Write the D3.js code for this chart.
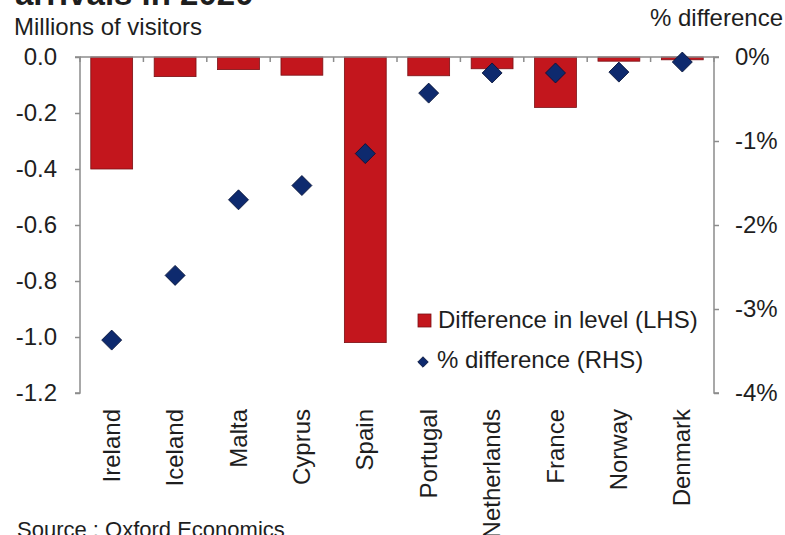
<!DOCTYPE html>
<html>
<head>
<meta charset="utf-8">
<script src="https://cdn.jsdelivr.net/npm/d3@7/dist/d3.min.js"></script>
<style>
  html, body { margin: 0; padding: 0; background: #fff; }
  svg { display: block; font-family: "Liberation Sans", Arial, sans-serif; }
</style>
</head>
<body>
<svg id="chart" width="785" height="535"></svg>
<script>
// Countries along the x axis
const countries = ["Ireland", "Iceland", "Malta", "Cyprus", "Spain", "Portugal", "Netherlands", "France", "Norway", "Denmark"];
// Difference in level of arrivals, millions of visitors (LHS)
const levelDiff = [-0.40, -0.07, -0.045, -0.065, -1.02, -0.067, -0.042, -0.18, -0.015, -0.01];
// Percentage difference (RHS)
const pctDiff = [-3.37, -2.60, -1.70, -1.53, -1.15, -0.43, -0.19, -0.19, -0.18, -0.06];
// Axis ticks
const leftTicks = [0, -0.2, -0.4, -0.6, -0.8, -1.0, -1.2];
const rightTicks = [0, -1, -2, -3, -4];

const svg = d3.select("#chart");
const plotLeft = 80, plotRight = 714, plotTop = 57, plotBottom = 393;
const axisColor = "#8c8c8c";
const textColor = "#1e1e1e";
const fontSize = 24;

const x = d3.scaleBand().domain(countries).range([plotLeft, plotRight]).paddingInner(0.34).paddingOuter(0.17);
const yL = d3.scaleLinear().domain([-1.2, 0]).range([plotBottom, plotTop]);
const yR = d3.scaleLinear().domain([-4, 0]).range([plotBottom, plotTop]);

// Title (runs above the top edge)
svg.append("text").attr("x", 15).attr("y", 5)
  .attr("font-size", 33).attr("font-weight", "bold").attr("fill", textColor)
  .text("arrivals in 2020");

svg.append("text").attr("x", 14).attr("y", 35)
  .attr("font-size", fontSize).attr("fill", textColor).text("Millions of visitors");
svg.append("text").attr("x", 783).attr("y", 26).attr("text-anchor", "end")
  .attr("font-size", fontSize).attr("fill", textColor).text("% difference");

// Bars
svg.append("g").selectAll("rect").data(countries).join("rect")
  .attr("x", d => x(d))
  .attr("width", x.bandwidth())
  .attr("y", yL(0))
  .attr("height", (d, i) => yL(levelDiff[i]) - yL(0))
  .attr("fill", "#c3161d")
  .attr("stroke", "#7a1014")
  .attr("stroke-width", 0.8);

// Left axis
const gL = svg.append("g").attr("transform", `translate(${plotLeft},0)`)
  .call(d3.axisLeft(yL).tickValues(leftTicks).tickSize(5).tickPadding(18)
    .tickFormat(d => d3.format(".1f")(d).replace("−", "-")));
gL.select(".domain").attr("stroke", axisColor).attr("stroke-width", 1.5).attr("d", `M-5,${plotTop}H0V${plotBottom}H-5`);
gL.selectAll(".tick line").attr("stroke", axisColor).attr("stroke-width", 1.5);
gL.selectAll(".tick text").attr("font-size", fontSize).attr("fill", textColor)
  .attr("font-family", "Liberation Sans, Arial, sans-serif");

// Right axis
const gR = svg.append("g").attr("transform", `translate(${plotRight},0)`)
  .call(d3.axisRight(yR).tickValues(rightTicks).tickSize(5).tickPadding(16).tickFormat(d => d + "%"));
gR.select(".domain").attr("stroke", axisColor).attr("stroke-width", 1.5).attr("d", `M5,${plotTop}H0V${plotBottom}H5`);
gR.selectAll(".tick line").attr("stroke", axisColor).attr("stroke-width", 1.5);
gR.selectAll(".tick text").attr("font-size", fontSize).attr("fill", textColor)
  .attr("font-family", "Liberation Sans, Arial, sans-serif");

// Category axis along the zero line, ticks at band boundaries
const bounds = d3.range(countries.length + 1).map(i => plotLeft + i * (plotRight - plotLeft) / countries.length);
svg.append("line").attr("x1", plotLeft).attr("x2", plotRight).attr("y1", plotTop).attr("y2", plotTop)
  .attr("stroke", axisColor).attr("stroke-width", 1.5);
svg.append("g").selectAll("line").data(bounds).join("line")
  .attr("x1", d => d).attr("x2", d => d).attr("y1", plotTop).attr("y2", plotTop + 5)
  .attr("stroke", axisColor).attr("stroke-width", 1.5);

// Rotated category labels
svg.append("g").selectAll("text").data(countries).join("text")
  .attr("transform", d => `translate(${x(d) + x.bandwidth() / 2 + 8},409) rotate(-90)`)
  .attr("text-anchor", "end")
  .attr("font-size", fontSize).attr("fill", textColor)
  .text(d => d);

// Diamonds (% difference)
svg.append("g").selectAll("path").data(countries).join("path")
  .attr("transform", (d, i) => `translate(${x(d) + x.bandwidth() / 2},${yR(pctDiff[i])}) rotate(45)`)
  .attr("d", d3.symbol().type(d3.symbolSquare).size(200)())
  .attr("fill", "#0e2a6e")
  .attr("stroke", "#061236")
  .attr("stroke-width", 0.8);

// Legend
svg.append("rect").attr("x", 418).attr("y", 314).attr("width", 13).attr("height", 13)
  .attr("fill", "#c3161d").attr("stroke", "#7a1014").attr("stroke-width", 0.8);
svg.append("text").attr("x", 438).attr("y", 328).attr("font-size", fontSize).attr("fill", textColor)
  .text("Difference in level (LHS)");
svg.append("path").attr("transform", "translate(423,362) rotate(45)")
  .attr("d", d3.symbol().type(d3.symbolSquare).size(55)())
  .attr("fill", "#0e2a6e").attr("stroke", "#061236").attr("stroke-width", 0.8);
svg.append("text").attr("x", 437).attr("y", 368).attr("font-size", fontSize).attr("fill", textColor)
  .text("% difference (RHS)");

// Source note
svg.append("text").attr("x", 17).attr("y", 537).attr("font-size", 22).attr("fill", textColor)
  .text("Source : Oxford Economics");
</script>
</body>
</html>
